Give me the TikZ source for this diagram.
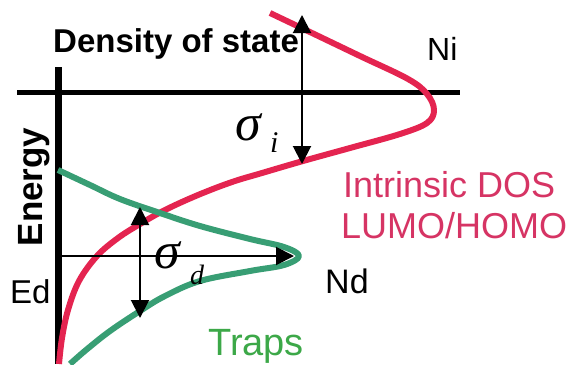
\documentclass[tikz,border=0pt]{standalone}
\usepackage{fontspec}
\setmainfont{Liberation Sans}
\newfontfamily\sigfont{Liberation Serif}
\usetikzlibrary{arrows.meta}
\definecolor{dosred}{RGB}{228,36,80}
\definecolor{dostext}{RGB}{214,52,100}
\definecolor{trapgreen}{RGB}{56,158,116}
\definecolor{traptext}{RGB}{60,168,72}
\begin{document}
\begin{tikzpicture}[x=1pt,y=-1pt,
  haxis/.style={line width=5pt},
  vaxis/.style={line width=7pt},
  dos/.style={line width=6pt, dosred, line join=round},
  trap/.style={line width=6pt, trapgreen, line join=round},
  sigarrow/.style={line width=2pt, {Triangle[length=18pt,width=18pt]}-{Triangle[length=18pt,width=18pt]}},
  onearrow/.style={line width=2pt, -{Triangle[length=18pt,width=18pt]}},
  lbl/.style={inner sep=0pt, anchor=base west}]
\useasboundingbox (0,0) rectangle (569,364);
% axes
\coordinate (hL) at (17,92);
\coordinate (hR) at (460,92);
\coordinate (vT) at (58,67);
\coordinate (vB) at (58,364);
\draw[haxis] (hL) -- (hR);
\draw[vaxis] (vT) -- (vB);
% labels
\node[lbl, font=\fontsize{33}{33}\selectfont\bfseries] (dos) at (53,52) {Density of state};
\node[inner sep=0pt, anchor=base, rotate=90, font=\fontsize{35}{35}\selectfont\bfseries] (energy) at (42,187) {Energy};
\node[lbl, font=\fontsize{32}{32}\selectfont] (ni) at (427,60) {Ni};
\node[lbl, font=\fontsize{36}{36}\selectfont, text=dostext] (intr) at (343,197) {Intrinsic DOS};
\node[lbl, font=\fontsize{36}{36}\selectfont, text=dostext] (lumo) at (341,238) {LUMO/HOMO};
\node[lbl, font=\fontsize{34}{34}\selectfont] (nd) at (325,293) {Nd};
\node[lbl, font=\fontsize{38}{38}\selectfont, text=traptext] (traps) at (208,355) {Traps};
\node[lbl, font=\fontsize{33}{33}\selectfont] (ed) at (10,303) {Ed};
% curves
\draw[dos] plot[smooth, tension=0.6] coordinates {(270,13) (312,33) (360,56) (408,79) (427,94) (434,110) (427,123) (400,134) (350,148) (303,161) (262,173) (232,182) (198,195) (165,210) (140,224) (118,238) (97,256) (79,281) (68,310) (62,338) (59,364)};
\draw[trap] plot[smooth, tension=0.6] coordinates {(58,170) (90,185) (120,199) (160,213) (200,226) (250,239) (284,247) (299,256) (284,265) (250,271) (200,281) (165,296) (140,311) (110,331) (86,350) (70,364)};
% arrows
\coordinate (iTop) at (302,15);
\coordinate (iBot) at (302,164);
\coordinate (dTop) at (140,207);
\coordinate (dBot) at (140,318);
\coordinate (edL) at (60,256);
\coordinate (edR) at (294,256);
\draw[sigarrow] (iBot) -- (iTop);
\draw[sigarrow] (dBot) -- (dTop);
\draw[onearrow] (edL) -- (edR);
% sigma labels
\node[lbl, font=\fontsize{52}{52}\selectfont\sigfont\itshape] (si) at (235,140) {σ};
\node[lbl, font=\fontsize{30}{30}\selectfont\sigfont\itshape] (sisub) at (270,152) {i};
\node[lbl, font=\fontsize{52}{52}\selectfont\sigfont\itshape] (sd) at (154,268) {σ};
\node[lbl, font=\fontsize{28}{28}\selectfont\sigfont\itshape] (sdsub) at (190,284) {d};
\end{tikzpicture}
\end{document}
